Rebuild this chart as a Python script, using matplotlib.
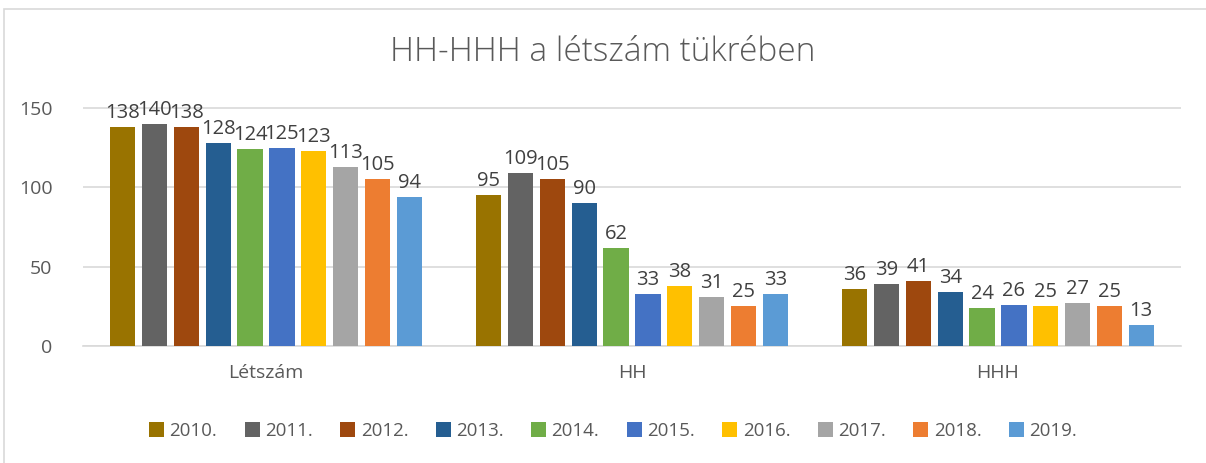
import matplotlib

matplotlib.use("Agg")
import matplotlib.pyplot as plt
import numpy as np
from matplotlib.patches import Rectangle

plt.rcParams["font.family"] = ["Open Sans", "DejaVu Sans"]

categories = ["Létszám", "HH", "HHH"]
years = ["2010.", "2011.", "2012.", "2013.", "2014.", "2015.", "2016.", "2017.", "2018.", "2019."]
values = [
    [138, 95, 36],
    [140, 109, 39],
    [138, 105, 41],
    [128, 90, 34],
    [124, 62, 24],
    [125, 33, 26],
    [123, 38, 25],
    [113, 31, 27],
    [105, 25, 25],
    [94, 33, 13],
]
colors = ["#997300", "#636363", "#9E480E", "#255E91", "#70AD47",
          "#4472C4", "#FFC000", "#A5A5A5", "#ED7D31", "#5B9BD5"]

text_col = "#595959"

fig = plt.figure(figsize=(12.06, 4.63), dpi=100)
fig.patches.append(Rectangle((4 / 1206, -0.1), 1.2, 1.08, transform=fig.transFigure,
                             fill=False, edgecolor="#D9D9D9", lw=1.2))

ax = fig.add_axes([83 / 1206, 1 - 346 / 463, (1181 - 83) / 1206, (346 - 108) / 463 * 160 / 150])

x = np.arange(len(categories))
step = 0.087
width = 0.069
n = len(years)
for i, (yr, vals) in enumerate(zip(years, values)):
    pos = x + (i - (n - 1) / 2) * step
    bars = ax.bar(pos, vals, width=width, color=colors[i], label=yr, zorder=3)
    for b, v in zip(bars, vals):
        ax.text(b.get_x() + b.get_width() / 2, v + 2.5, str(v), ha="center", va="bottom",
                fontsize=14.5, color="#404040")

ax.set_xlim(-0.5, 2.5)
ax.set_ylim(0, 160)
ax.set_yticks([0, 50, 100, 150])
ax.set_xticks(x)
ax.set_xticklabels(categories)
ax.tick_params(axis="both", length=0, labelsize=14, labelcolor=text_col)
ax.tick_params(axis="x", pad=13)
ax.tick_params(axis="y", pad=22)
ax.grid(axis="y", color="#D9D9D9", lw=1.2, zorder=0)
for s in ["top", "right", "left"]:
    ax.spines[s].set_visible(False)
ax.spines["bottom"].set_color("#D9D9D9")
ax.spines["bottom"].set_linewidth(1.2)

fig.text(0.5, 1 - 52 / 463, "HH-HHH a létszám tükrében", ha="center", va="center",
         fontsize=24, color=text_col, fontweight="light")

fig.legend(loc="center", bbox_to_anchor=(613 / 1206, 1 - 431 / 463), ncol=10, frameon=False,
           fontsize=13.5, labelcolor=text_col, handlelength=0.8, handleheight=0.8,
           handletextpad=0.3, columnspacing=1.45)

fig.savefig("out.png", dpi=100)
